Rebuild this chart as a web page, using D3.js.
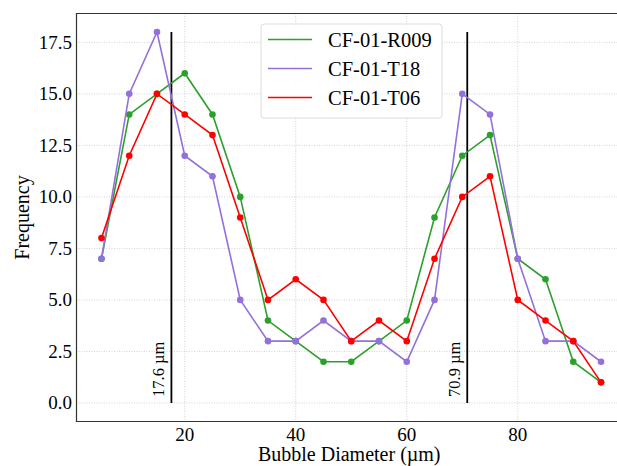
<!doctype html>
<html>
<head>
<meta charset="utf-8">
<script src="https://d3js.org/d3.v7.min.js"></script>
<style>
  body { margin: 0; background: #fff; }
</style>
</head>
<body>
<svg width="617" height="466"></svg>
<script>
// bubble diameter bins (µm)
var diameters = [5, 10, 15, 20, 25, 30, 35, 40, 45, 50, 55, 60, 65, 70, 75, 80, 85, 90, 95];

var seriesNames = ["CF-01-R009", "CF-01-T18", "CF-01-T06"];
var seriesColors = ["#2ca02c", "#9370db", "#ff0000"];

var r009 = [7, 14, 15, 16, 14, 10, 4, 3, 2, 2, 3, 4, 9, 12, 13, 7, 6, 2, 1];
var t18  = [7, 15, 18, 12, 11, 5, 3, 3, 4, 3, 3, 2, 5, 15, 14, 7, 3, 3, 2];
var t06  = [8, 12, 15, 14, 13, 9, 5, 6, 5, 3, 4, 3, 7, 10, 11, 5, 4, 3, 1];

// mean diameters marked by vertical lines
var markers = [17.6, 70.9];
var markerLabels = ["17.6 µm", "70.9 µm"];

var xTicks = [20, 40, 60, 80];
var yTicks = [0, 2.5, 5, 7.5, 10, 12.5, 15, 17.5];

var serif = "'Liberation Serif', 'Times New Roman', 'DejaVu Serif', serif";

var svg = d3.select("svg").attr("font-family", serif);

var x = d3.scaleLinear().domain([0.5, 99.5]).range([76.5, 626]);
var y = d3.scaleLinear().domain([-0.9, 18.9]).range([421.5, 13.5]);

var plotL = x.range()[0], plotR = x.range()[1],
    plotT = y.range()[1], plotB = y.range()[0];

// grid
var grid = svg.append("g");
grid.selectAll(".gx").data(xTicks).enter().append("line")
    .attr("x1", d => x(d)).attr("x2", d => x(d))
    .attr("y1", plotT).attr("y2", plotB)
    .attr("stroke", "#c8c8c8").attr("stroke-width", 0.8)
    .attr("stroke-dasharray", "1,1.5");
grid.selectAll(".gy").data(yTicks).enter().append("line")
    .attr("x1", plotL).attr("x2", plotR)
    .attr("y1", d => y(d)).attr("y2", d => y(d))
    .attr("stroke", "#c8c8c8").attr("stroke-width", 0.8)
    .attr("stroke-dasharray", "1,1.5");

// tick labels
svg.append("g").selectAll("text").data(xTicks).enter().append("text")
    .attr("x", d => x(d)).attr("y", 441)
    .attr("text-anchor", "middle")
    .attr("font-size", 19)
    .text(d => d);
svg.append("g").selectAll("text").data(yTicks).enter().append("text")
    .attr("x", 72).attr("y", d => y(d) + 6.5)
    .attr("text-anchor", "end")
    .attr("font-size", 19)
    .text(d => d3.format(".1f")(d));

// vertical marker lines
markers.forEach(function(m, i) {
  svg.append("line")
      .attr("x1", x(m)).attr("x2", x(m))
      .attr("y1", y(0)).attr("y2", y(18))
      .attr("stroke", "#000").attr("stroke-width", 1.8);
  svg.append("text")
      .attr("transform", "translate(" + (x(m) - 7) + "," + (y(0) - 6) + ") rotate(-90)")
      .attr("font-size", 16.5)
      .text(markerLabels[i]);
});

// series
var allSeries = [r009, t18, t06];
var line = d3.line().x((d, i) => x(diameters[i])).y(d => y(d));

allSeries.forEach(function(vals, k) {
  var g = svg.append("g");
  g.append("path")
      .attr("d", line(vals))
      .attr("fill", "none")
      .attr("stroke", seriesColors[k])
      .attr("stroke-width", 1.6);
  g.selectAll("circle").data(vals).enter().append("circle")
      .attr("cx", (d, i) => x(diameters[i]))
      .attr("cy", d => y(d))
      .attr("r", 3.3)
      .attr("fill", seriesColors[k]);
});

// spines
svg.append("path")
    .attr("d", "M" + plotR + "," + plotT + "H" + plotL + "V" + plotB + "H" + plotR)
    .attr("fill", "none")
    .attr("stroke", "#333")
    .attr("stroke-width", 1.2);

// legend
var lg = svg.append("g").attr("transform", "translate(261,24)");
lg.append("rect")
    .attr("width", 181).attr("height", 94)
    .attr("rx", 3)
    .attr("fill", "#fff").attr("fill-opacity", 0.85)
    .attr("stroke", "#dcdcdc").attr("stroke-width", 1);
seriesNames.forEach(function(name, k) {
  var yy = 15.5 + k * 29;
  lg.append("line")
      .attr("x1", 7).attr("x2", 51)
      .attr("y1", yy).attr("y2", yy)
      .attr("stroke", seriesColors[k]).attr("stroke-width", 1.6);
  lg.append("text")
      .attr("x", 67).attr("y", yy + 7)
      .attr("font-size", 20.5)
      .text(name);
});

// axis labels
svg.append("text")
    .attr("x", (plotL + 626) / 2 - 2).attr("y", 461)
    .attr("text-anchor", "middle")
    .attr("font-size", 20)
    .text("Bubble Diameter (µm)");
svg.append("text")
    .attr("transform", "translate(29," + ((plotT + plotB) / 2) + ") rotate(-90)")
    .attr("text-anchor", "middle")
    .attr("font-size", 20)
    .text("Frequency");
</script>
</body>
</html>
